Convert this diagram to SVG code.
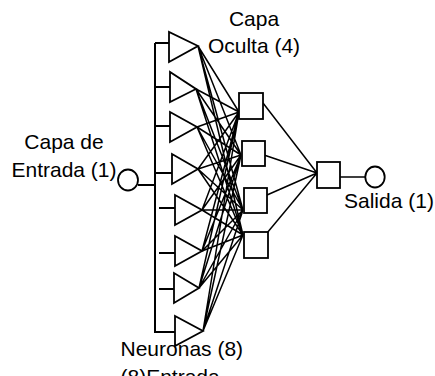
<svg xmlns="http://www.w3.org/2000/svg" width="435" height="376" viewBox="0 0 435 376">
<style>
.s{fill:#fff;stroke:#000;stroke-width:1.8}
.l{stroke:#000;stroke-width:1.5;fill:none}
.b{stroke:#000;stroke-width:2;fill:none}
text{font-family:"Liberation Sans",Arial,sans-serif;font-size:21px;fill:#000}
</style>
<rect width="435" height="376" fill="#fff"/>
<g id="connectors">
<path class="b" d="M138 185H155M155 43V332H175M155 43H169M155 87H170M155 126H170M155 173H172M159 208H175M159 253H175M159 289H174"/>
<path class="l" d="M198 46L239 112M198 46L241 155M198 46L243 210M198 46L243 235
M196 89L239 112M196 89L241 155M196 89L243 210M196 89L243 235
M197 127L239 112M197 127L241 155M197 127L243 210M197 127L243 235
M198 169L239 112M198 169L241 155M198 169L243 210M198 169L243 235
M202 210L239 112M202 210L241 155M202 210L243 210M202 210L243 235
M202 251L239 112M202 251L241 155M202 251L243 210M202 251L243 235
M199 288L239 112M199 288L241 155M199 288L243 210M199 288L243 235
M203 331L239 112M203 331L241 155M203 331L243 210M203 331L243 235
M263 103L317 173M264 155L317 173M267 195L317 173M267 233L317 173M340 177H366"/>
</g>
<g id="input"><ellipse class="s" cx="128" cy="180" rx="10" ry="10.5"/></g>
<g id="t1"><polygon class="s" points="169,32 169,62 198,46"/></g>
<g id="t2"><polygon class="s" points="170,72 170,102 196,89"/></g>
<g id="t3"><polygon class="s" points="170,112 170,142 197,127"/></g>
<g id="t4"><polygon class="s" points="172,154 172,184 198,169"/></g>
<g id="t5"><polygon class="s" points="175,195 175,225 202,210"/></g>
<g id="t6"><polygon class="s" points="175,236 175,266 202,251"/></g>
<g id="t7"><polygon class="s" points="174,273 174,303 199,288"/></g>
<g id="t8"><polygon class="s" points="175,316 175,346 203,331"/></g>
<g id="h1"><rect class="s" x="239" y="93" width="24" height="26"/></g>
<g id="h2"><rect class="s" x="242" y="141" width="23" height="25"/></g>
<g id="h3"><rect class="s" x="244" y="188" width="23" height="25"/></g>
<g id="h4"><rect class="s" x="244" y="232" width="24" height="26"/></g>
<g id="out"><rect class="s" x="317" y="162" width="23" height="26"/></g>
<g id="output"><ellipse class="s" cx="375" cy="177" rx="9.7" ry="10.5"/></g>
<g id="labels">
<text x="64" y="149" text-anchor="middle">Capa de</text>
<text x="64" y="177" text-anchor="middle">Entrada (1)</text>
<text x="254" y="26" text-anchor="middle">Capa</text>
<text x="254" y="53" text-anchor="middle">Oculta (4)</text>
<text x="344" y="208">Salida (1)</text>
<text x="120.5" y="356">Neuronas (8)</text>
<text x="120.5" y="384">(8)Entrada</text>
</g>
</svg>
